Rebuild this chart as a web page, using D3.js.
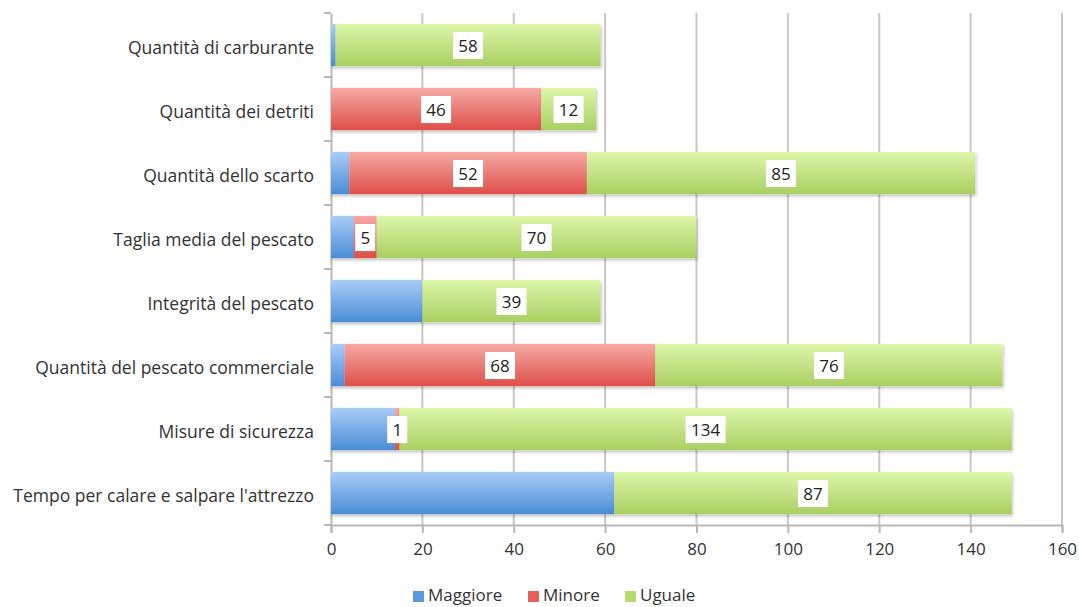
<!DOCTYPE html>
<html><head><meta charset="utf-8">
<script src="https://cdn.jsdelivr.net/npm/d3@7"></script>
<style>body{margin:0;background:#fff}svg{display:block}</style>
</head><body><svg id="c" width="1079" height="607"></svg>
<script>
const categories = ["Quantità di carburante","Quantità dei detriti","Quantità dello scarto","Taglia media del pescato","Integrità del pescato","Quantità del pescato commerciale","Misure di sicurezza","Tempo per calare e salpare l'attrezzo"];
const seriesNames = ["Maggiore","Minore","Uguale"];
const maggiore = [1,0,4,5,20,3,14,62];
const minore = [0,46,52,5,0,68,1,0];
const uguale = [58,12,85,70,39,76,134,87];
const showLabel = [false,true,true];
const xTicks = [0,20,40,60,80,100,120,140,160];

const svg = d3.select("#c");
const m = {l:331, r:1062, t:13, b:525};
const x = d3.scaleLinear().domain([0,160]).range([m.l,m.r]);
const y = d3.scaleBand().domain(categories).range([m.t,m.b]).paddingInner(0.34).paddingOuter(0.17);
const font = "'Open Sans', sans-serif";

const defs = svg.append("defs");
const grads = [["#a9cdf7","#4a8cd6"],["#f7aaa6","#dd4f48"],["#def7ac","#a9cf60"]];
grads.forEach((g,i)=>{
  const lg = defs.append("linearGradient").attr("id","g"+i).attr("x1",0).attr("y1",0).attr("x2",0).attr("y2",1);
  lg.append("stop").attr("offset","0%").attr("stop-color",g[0]);
  lg.append("stop").attr("offset","100%").attr("stop-color",g[1]);
});
const f = defs.append("filter").attr("id","sh").attr("x","-5%").attr("y","-10%").attr("width","110%").attr("height","130%");
f.append("feDropShadow").attr("dx",1).attr("dy",2).attr("stdDeviation",1.5).attr("flood-color","#000").attr("flood-opacity",0.25);

// grid
svg.append("g").selectAll("line").data(xTicks.slice(1)).join("line")
  .attr("x1",d=>x(d)).attr("x2",d=>x(d)).attr("y1",m.t).attr("y2",m.b)
  .attr("stroke","#c8c8c8").attr("stroke-width",2);

// x axis
const xa = svg.append("g").attr("transform",`translate(0,${m.b})`)
  .call(d3.axisBottom(x).tickValues(xTicks).tickSize(8).tickPadding(10));
xa.select(".domain").attr("stroke","#b8b8b8").attr("stroke-width",2);
xa.selectAll(".tick line").attr("stroke","#b8b8b8").attr("stroke-width",2).attr("y1",0);
xa.selectAll("text").attr("font-family",font).attr("font-size",17).attr("fill","#333");

// y axis
const ya = svg.append("g").attr("transform",`translate(${m.l},0)`)
  .call(d3.axisLeft(y).tickSize(0).tickPadding(17));
ya.select(".domain").attr("stroke","#b8b8b8").attr("stroke-width",2);
ya.selectAll("text").attr("font-family",font).attr("font-size",17.5).attr("fill","#333").attr("dy","0.5em");
const bounds = [m.t].concat(categories.map(c=>y(c)+y.bandwidth()+y.step()*0.17));
ya.append("g").selectAll("line").data(bounds).join("line")
  .attr("x1",-7).attr("x2",0).attr("y1",d=>d).attr("y2",d=>d)
  .attr("stroke","#b8b8b8").attr("stroke-width",2);

const data = categories.map((c,i)=>({cat:c, Maggiore:maggiore[i], Minore:minore[i], Uguale:uguale[i]}));
const stack = d3.stack().keys(seriesNames)(data);

// bars
const bars = svg.append("g");
stack.forEach((s,si)=>{
  bars.append("g").attr("filter","url(#sh)").selectAll("rect").data(s).join("rect")
    .attr("x",d=>x(d[0])).attr("width",d=>x(d[1])-x(d[0]))
    .attr("y",d=>y(d.data.cat)).attr("height",y.bandwidth())
    .attr("fill",`url(#g${si})`);
});

// labels
const lab = svg.append("g");
stack.forEach((s,si)=>{
  if(!showLabel[si]) return;
  s.forEach(d=>{
    const v = d[1]-d[0];
    if(v<=0) return;
    const cx = (x(d[0])+x(d[1]))/2, cy = y(d.data.cat)+y.bandwidth()/2;
    const t = String(v);
    const w = t.length*10+10;
    lab.append("rect").attr("x",cx-w/2).attr("y",cy-13).attr("width",w).attr("height",27).attr("fill","#fff");
    lab.append("text").attr("x",cx).attr("y",cy).attr("dy","0.42em").attr("text-anchor","middle")
      .attr("font-family",font).attr("font-size",17).attr("fill","#222").text(t);
  });
});

// legend
const colors = ["#5b9ae0","#e8605a","#b5da70"];
const lg = svg.append("g").attr("transform","translate(413,595)");
let off = 0;
const widths = [115,97,0];
seriesNames.forEach((n,i)=>{
  const g = lg.append("g").attr("transform",`translate(${off},0)`);
  g.append("rect").attr("x",0).attr("y",-4).attr("width",11).attr("height",11).attr("fill",colors[i]);
  g.append("text").attr("x",15).attr("y",0).attr("dy","0.36em").attr("font-family",font).attr("font-size",17).attr("fill","#333").text(n);
  off += widths[i];
});
</script></body></html>
